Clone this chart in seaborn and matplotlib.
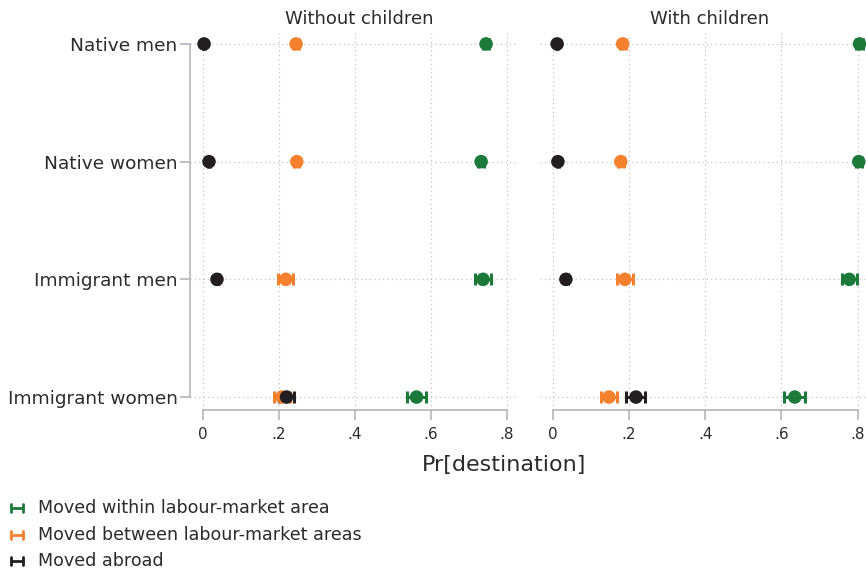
import matplotlib
matplotlib.use("Agg")
import matplotlib.pyplot as plt
from matplotlib.lines import Line2D
import numpy as np
import pandas as pd
import seaborn as sns

# Groups (rows) and panels
groups = ["Native men", "Native women", "Immigrant men", "Immigrant women"]
panels = ["Without children", "With children"]
destinations = ["Moved within labour-market area",
                "Moved between labour-market areas",
                "Moved abroad"]

# Predicted probabilities, one list per destination, ordered by group
within_nochild = [0.745, 0.732, 0.737, 0.562]
between_nochild = [0.245, 0.247, 0.218, 0.208]
abroad_nochild = [0.003, 0.016, 0.037, 0.220]

within_child = [0.805, 0.803, 0.778, 0.635]
between_child = [0.183, 0.178, 0.189, 0.147]
abroad_child = [0.011, 0.013, 0.034, 0.218]

# Half-widths of the 95% confidence intervals
within_nochild_ci = [0.008, 0.007, 0.020, 0.025]
between_nochild_ci = [0.008, 0.007, 0.020, 0.020]
abroad_nochild_ci = [0.003, 0.003, 0.006, 0.020]

within_child_ci = [0.008, 0.008, 0.020, 0.028]
between_child_ci = [0.008, 0.008, 0.020, 0.020]
abroad_child_ci = [0.003, 0.003, 0.006, 0.025]

colors = {destinations[0]: "#1b7a3a",
          destinations[1]: "#f5812f",
          destinations[2]: "#231f20"}

rows = []
tables = {
    panels[0]: [(destinations[0], within_nochild, within_nochild_ci),
                (destinations[1], between_nochild, between_nochild_ci),
                (destinations[2], abroad_nochild, abroad_nochild_ci)],
    panels[1]: [(destinations[0], within_child, within_child_ci),
                (destinations[1], between_child, between_child_ci),
                (destinations[2], abroad_child, abroad_child_ci)],
}
for panel, series in tables.items():
    for dest, est, ci in series:
        for g, e, c in zip(groups, est, ci):
            rows.append(dict(panel=panel, dest=dest, group=g, pr=e, ci=c))
df = pd.DataFrame(rows)
df["gi"] = df["group"].map({g: i for i, g in enumerate(groups)})

sns.set_theme(style="white")
plt.rcParams["font.family"] = ["DejaVu Sans"]

W, H = 866, 573
fig = plt.figure(figsize=(W / 100, H / 100), dpi=100)

axis_grey = "#b4b4bc"
grid_grey = "#c4c4c4"
text_col = "#2b2b2b"

top_px, bot_px = 33, 410
ax_h = (bot_px - top_px) / H
ax_b = 1 - bot_px / H
ax_specs = [(190, 518, (-0.034, 0.829)), (540, 866, (-0.034, 0.822))]

for k, (panel, (x0, x1, xlim)) in enumerate(zip(panels, ax_specs)):
    ax = fig.add_axes([x0 / W, ax_b, (x1 - x0) / W, ax_h])
    sub = df[df["panel"] == panel]

    # dotted reference grid
    for xv in [0, 0.2, 0.4, 0.6, 0.8]:
        ax.axvline(xv, color=grid_grey, lw=0.9, ls=(0, (1, 2.5)), zorder=0)
    for yi in range(len(groups)):
        ax.axhline(yi, color=grid_grey, lw=0.9, ls=(0, (1, 2.5)), zorder=0)

    for dest in destinations:
        d = sub[sub["dest"] == dest]
        ax.errorbar(d["pr"], d["gi"], xerr=d["ci"], fmt="none",
                    ecolor=colors[dest], elinewidth=2.2, capsize=4.5,
                    capthick=2.2, zorder=3)
        sns.scatterplot(data=d, x="pr", y="gi", color=colors[dest], s=95,
                        edgecolor="none", ax=ax, zorder=4, legend=False)

    ax.set_xlim(*xlim)
    ax.set_ylim(3.11, -0.093)
    ax.set_xlabel("")
    ax.set_ylabel("")
    ax.set_xticks([0, 0.2, 0.4, 0.6, 0.8])
    ax.set_xticklabels(["0", ".2", ".4", ".6", ".8"], fontsize=11, color=text_col)
    ax.tick_params(axis="x", length=7, width=1.2, color=axis_grey, pad=5,
                   bottom=True)
    for s in ["top", "right"]:
        ax.spines[s].set_visible(False)
    ax.spines["bottom"].set_color(axis_grey)
    ax.spines["bottom"].set_linewidth(1.2)
    ax.spines["bottom"].set_bounds(0, 0.8)
    if k == 0:
        ax.set_yticks(range(len(groups)))
        ax.set_yticklabels(groups, fontsize=13.3, color=text_col)
        ax.tick_params(axis="y", length=7, width=1.2, color=axis_grey, pad=2,
                       left=True)
        ax.spines["left"].set_color(axis_grey)
        ax.spines["left"].set_linewidth(1.2)
        ax.spines["left"].set_bounds(0, 3)
    else:
        ax.set_yticks([])
        ax.spines["left"].set_visible(False)
    ax.patch.set_visible(False)

fig.text(359 / W, 1 - 19 / H, panels[0], ha="center", va="center",
         fontsize=13, color=text_col)
fig.text(710 / W, 1 - 19 / H, panels[1], ha="center", va="center",
         fontsize=13, color=text_col)
fig.text(504 / W, 1 - 465 / H, "Pr[destination]", ha="center", va="center",
         fontsize=16, color=text_col)

# legend: error-bar keys with labels
for i, dest in enumerate(destinations):
    y = 1 - (508 + 26.5 * i) / H
    c = colors[dest]
    fig.add_artist(Line2D([11 / W, 23 / W], [y, y], color=c, lw=2,
                          transform=fig.transFigure))
    for xe in (11, 23):
        fig.add_artist(Line2D([xe / W, xe / W], [y - 4 / H, y + 4 / H],
                              color=c, lw=2, transform=fig.transFigure))
    fig.text(38 / W, y, dest, ha="left", va="center", fontsize=12.6,
             color=text_col)

fig.savefig("out.png", dpi=100, facecolor="white")
